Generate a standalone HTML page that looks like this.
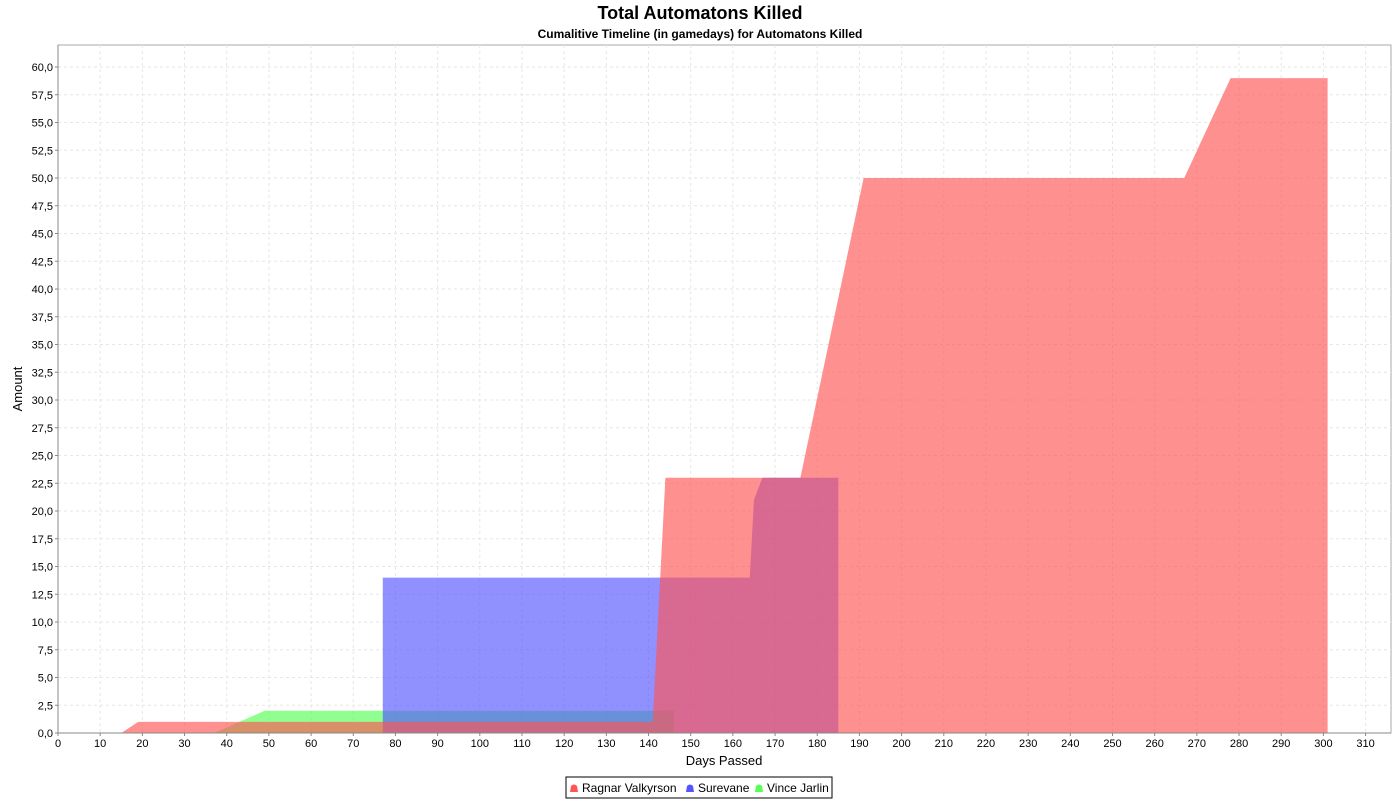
<!DOCTYPE html>
<html><head><meta charset="utf-8">
<style>
html,body{margin:0;padding:0;background:#fff;}
body{width:1400px;height:800px;overflow:hidden;font-family:"Liberation Sans",Arial,sans-serif;}
</style></head>
<body>
<svg id="chart" width="1400" height="800" xmlns="http://www.w3.org/2000/svg" font-family="Liberation Sans, Arial, sans-serif">
<text x="700" y="19" text-anchor="middle" font-size="18" font-weight="bold">Total Automatons Killed</text>
<text x="700" y="38" text-anchor="middle" font-size="12" font-weight="bold">Cumalitive Timeline (in gamedays) for Automatons Killed</text>
<g id="grid"></g>
<g id="areas"></g>
<g id="axes"></g>
<text x="724" y="765" text-anchor="middle" font-size="13">Days Passed</text>
<text transform="translate(22,389) rotate(-90)" text-anchor="middle" font-size="13">Amount</text>
<g>
<rect x="566" y="777" width="266" height="21" fill="#fff" stroke="#000" stroke-width="1"/>
<path d="M570,792 L571,786 Q574,783 577,786 L578,792 Z" fill="#ff5555"/>
<text x="582" y="792" font-size="12">Ragnar Valkyrson</text>
<path d="M686,792 L687,786 Q690,783 693,786 L694,792 Z" fill="#5555ff"/>
<text x="698" y="792" font-size="12">Surevane</text>
<path d="M755,792 L756,786 Q759,783 762,786 L763,792 Z" fill="#55ff55"/>
<text x="767" y="792" font-size="12">Vince Jarlin</text>
</g>
</svg>
<script>
const seriesNames = ["Ragnar Valkyrson","Surevane","Vince Jarlin"];
const ragnarX = [15,19,141,144,176,191,267,278,301,301];
const ragnarY = [0,1,1,23,23,50,50,59,59,0];
const surevaneX = [77,77,164,165,167,185,185];
const surevaneY = [0,14,14,21,23,23,0];
const vinceX = [37,49,146,146];
const vinceY = [0,2,2,0];
const xTicks = [0,10,20,30,40,50,60,70,80,90,100,110,120,130,140,150,160,170,180,190,200,210,220,230,240,250,260,270,280,290,300,310];
const yTicks = [0,2.5,5,7.5,10,12.5,15,17.5,20,22.5,25,27.5,30,32.5,35,37.5,40,42.5,45,47.5,50,52.5,55,57.5,60];

const L=58,R=1391,T=45,B=733;
const sx=d=>58+d*4.218;
const sy=v=>733-v*11.1;
const NS="http://www.w3.org/2000/svg";
function mk(tag,attrs,parent){const e=document.createElementNS(NS,tag);for(const k in attrs)e.setAttribute(k,attrs[k]);parent.appendChild(e);return e;}
const grid=document.getElementById('grid'),axes=document.getElementById('axes'),areas=document.getElementById('areas');
mk('rect',{x:L,y:T,width:R-L,height:B-T,fill:'#fff',stroke:'#aaa'},grid);
xTicks.forEach(t=>{
  const l=mk('line',{x1:sx(t),x2:sx(t),y1:T,y2:B,stroke:'#e6e6e6','stroke-dasharray':'3,3'},grid);
  
  
  mk('line',{x1:sx(t),x2:sx(t),y1:B,y2:B+3,stroke:'#888'},axes);
  const tx=mk('text',{x:sx(t),y:B+14,'text-anchor':'middle','font-size':'11'},axes);
  
  
  tx.textContent=t;
});
yTicks.forEach(t=>{
  const l=mk('line',{x1:L,x2:R,y1:sy(t),y2:sy(t),stroke:'#e6e6e6','stroke-dasharray':'3,3'},grid);
  
  
  mk('line',{x1:L-3,x2:L,y1:sy(t),y2:sy(t),stroke:'#888'},axes);
  const tx=mk('text',{x:L-5,y:sy(t)+4,'text-anchor':'end','font-size':'11'},axes);
  
  
  tx.textContent=t.toFixed(1).replace('.',',');
});
mk('line',{x1:L,x2:L,y1:T,y2:B,stroke:'#888'},axes);
mk('line',{x1:L,x2:R,y1:B,y2:B,stroke:'#888'},axes);
function area(xs,ys,color,name){
  let d='M'+sx(xs[0])+','+sy(0);
  xs.forEach((x,i)=>{d+=' L'+sx(x)+','+sy(ys[i]);});
  d+=' L'+sx(xs[xs.length-1])+','+sy(0)+' Z';
  const p=mk('path',{d:d,fill:color,'fill-opacity':0.65},areas);
  
  
}
area(vinceX,vinceY,'#55ff55','area-vince');
area(surevaneX,surevaneY,'#5555ff','area-surevane');
area(ragnarX,ragnarY,'#ff5555','area-ragnar');
</script>
</body></html>
